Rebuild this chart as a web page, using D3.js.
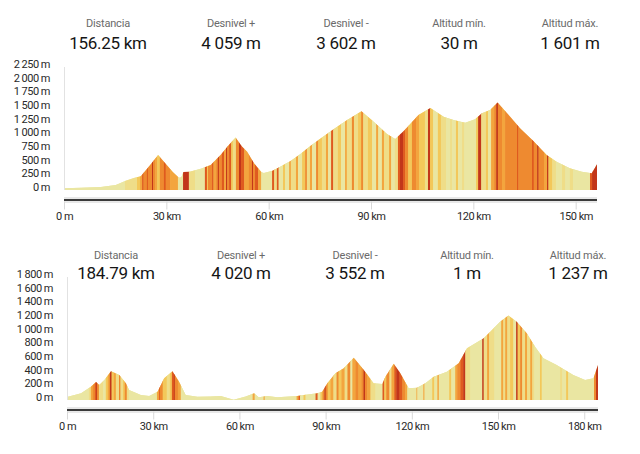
<!DOCTYPE html>
<html><head><meta charset="utf-8">
<script src="https://cdn.jsdelivr.net/npm/d3@7"></script>
<style>
html,body{margin:0;padding:0;background:#fff;}
svg{display:block;font-family:Roboto, "Noto Sans", sans-serif;}
</style></head>
<body>
<svg id="chart" width="640" height="454"></svg>
<script>
// ---------- DATA ----------
const statLabels = ["Distancia", "Desnivel +", "Desnivel -", "Altitud mín.", "Altitud máx."];
const stats1 = ["156.25 km", "4 059 m", "3 602 m", "30 m", "1 601 m"];
const stats2 = ["184.79 km", "4 020 m", "3 552 m", "1 m", "1 237 m"];

// grade classes: pale -> dark red
const gradeColors = ["#eae6a2", "#efdd88", "#f3c85a", "#f3a53e", "#ee8a30", "#df5a1f", "#c2361a"];

// route 1 profile
const route1Total = 156.25;
const route1Km   = [0, 5, 10.8, 15.2, 18.1, 20.5, 22.5, 24.9, 27.6, 29.8, 31.9, 33.7, 34.4, 35.0, 36.8, 40.1, 43.0, 45.9, 48.0, 50.3, 52.1, 53.7, 55.7, 57.9, 58.6, 61.1, 63.5, 66.4, 69.3, 72.3, 75.2, 79.1, 83.0, 87.2, 90.8, 94.7, 97.1, 99.6, 103.9, 107.4, 111.3, 114.2, 117.6, 120.5, 122.5, 124.9, 127.1, 130.8, 133.7, 137.6, 141.5, 144.4, 148.3, 151.8, 154.7, 156.25];
const route1Elev = [30, 40, 55, 90, 170, 220, 250, 430, 640, 480, 330, 225, 235, 330, 335, 390, 457, 640, 800, 960, 800, 700, 488, 323, 310, 350, 430, 530, 658, 810, 944, 1116, 1280, 1440, 1250, 1024, 933, 1079, 1372, 1500, 1341, 1280, 1231, 1293, 1403, 1463, 1601, 1341, 1128, 896, 640, 518, 397, 335, 305, 470];
const route1StripeKm = [0, 15.5, 17.9, 21.4, 22.3, 22.9, 23.3, 24.3, 24.6, 25.8, 26.1, 26.7, 27.3, 28.1, 29.3, 29.8, 31.1, 33.4, 34.9, 36.6, 38.4, 41.3, 41.9, 42.2, 43.4, 43.8, 44.6, 45.1, 45.4, 46.3, 46.9, 47.5, 47.8, 48.4, 49.0, 49.5, 50.4, 51.3, 51.9, 52.8, 54.2, 55.1, 55.4, 56.0, 56.9, 57.8, 61.0, 61.6, 62.4, 62.9, 64.2, 64.8, 66.0, 66.5, 68.0, 68.6, 69.8, 70.7, 71.2, 72.1, 72.7, 73.9, 74.5, 75.6, 76.8, 77.4, 78.3, 78.9, 80.3, 81.2, 82.4, 82.9, 84.4, 85.0, 86.2, 87.1, 87.7, 89.1, 90.3, 91.5, 92.1, 93.2, 93.8, 95.3, 95.9, 97.0, 97.9, 98.5, 99.4, 100.0, 100.9, 102.0, 103.2, 104.1, 105.8, 106.7, 107.3, 108.2, 109.6, 110.5, 112.0, 113.2, 113.7, 114.9, 115.5, 116.7, 117.3, 120.8, 121.4, 122.3, 123.7, 124.3, 125.2, 126.1, 126.7, 127.2, 128.4, 129.3, 132.8, 133.2, 137.2, 137.7, 138.7, 139.1, 140.7, 141.6, 142.0, 143.1, 144.2, 146.0, 146.9, 148.3, 149.2, 154.2, 154.8];
const route1StripeClass = [0, 0, 1, 2, 3, 5, 4, 5, 4, 6, 4, 3, 2, 4, 5, 4, 3, 0, 6, 1, 0, 5, 2, 4, 5, 3, 4, 6, 4, 5, 3, 6, 4, 5, 2, 1, 4, 6, 5, 3, 4, 6, 4, 5, 3, 0, 5, 1, 5, 0, 2, 0, 3, 1, 3, 0, 2, 4, 1, 3, 0, 4, 2, 1, 3, 0, 5, 1, 2, 0, 3, 1, 4, 1, 2, 4, 1, 2, 0, 3, 0, 3, 1, 3, 0, 1, 5, 6, 5, 4, 2, 4, 3, 2, 1, 6, 2, 0, 2, 1, 0, 1, 0, 2, 0, 1, 0, 2, 6, 1, 2, 0, 3, 4, 6, 4, 3, 4, 5, 4, 5, 4, 6, 4, 3, 6, 2, 1, 0, 1, 0, 1, 0, 5, 6];

// route 2 profile
const route2Total = 184.79;
const route2Km   = [0, 4.9, 8.3, 10.1, 11.2, 13.0, 15.3, 18.2, 20.5, 21.6, 25.7, 28.6, 31.5, 33.8, 36.7, 39.0, 41.3, 45.4, 50.0, 53.5, 58.0, 62.2, 65.1, 66.7, 69.7, 73.2, 80.1, 82.4, 87.1, 88.8, 90.6, 93.4, 96.3, 99.8, 103.3, 106.7, 109.7, 110.8, 113.7, 116.0, 118.9, 121.8, 124.7, 127.6, 132.2, 136.3, 139.2, 145.0, 147.3, 150.7, 153.6, 156.5, 160.0, 162.9, 165.8, 170.4, 176.2, 180.3, 183.2, 184.79];
const route2Elev = [45, 98, 195, 265, 220, 293, 420, 366, 244, 146, 73, 58, 121, 317, 420, 268, 73, 48, 50, 60, 5, 50, 98, 40, 60, 40, 60, 73, 98, 121, 244, 390, 463, 620, 439, 244, 234, 341, 530, 390, 171, 180, 244, 341, 415, 537, 756, 903, 1000, 1146, 1237, 1146, 976, 780, 610, 512, 366, 293, 317, 512];
const route2StripeKm = [0, 7.6, 8.3, 9.0, 9.7, 10.1, 10.4, 11.1, 12.5, 13.5, 14.2, 14.9, 15.5, 16.3, 17.0, 18.1, 18.6, 19.5, 20.1, 20.8, 21.5, 31.3, 32.0, 32.3, 33.3, 34.7, 35.8, 36.5, 37.2, 37.5, 38.6, 39.6, 64.6, 65.3, 68.4, 68.8, 79.9, 80.6, 81.1, 82.3, 83.0, 86.5, 87.2, 88.2, 88.9, 89.6, 90.0, 90.7, 91.7, 92.7, 93.8, 94.5, 95.5, 96.6, 97.6, 98.6, 99.3, 100.4, 101.4, 102.5, 103.2, 103.7, 104.5, 105.6, 107.3, 109.8, 110.4, 111.1, 112.2, 112.9, 113.9, 114.6, 115.7, 116.7, 117.7, 118.4, 121.6, 121.9, 124.0, 124.4, 127.1, 127.8, 128.9, 129.4, 133.0, 133.7, 135.1, 135.8, 136.9, 137.9, 138.6, 140.3, 144.5, 145.0, 146.2, 146.9, 148.7, 151.1, 151.8, 152.5, 153.2, 154.2, 155.3, 156.3, 156.8, 157.7, 158.4, 159.4, 160.1, 161.2, 161.9, 162.6, 164.6, 165.2, 171.6, 172.3, 173.7, 174.4, 183.4, 184.1];
const route2StripeClass = [0, 1, 3, 4, 5, 6, 4, 1, 0, 2, 3, 6, 2, 3, 1, 4, 1, 2, 4, 1, 0, 3, 5, 4, 2, 1, 2, 5, 6, 4, 3, 0, 3, 0, 3, 0, 3, 5, 0, 2, 0, 5, 0, 2, 4, 6, 4, 2, 3, 1, 4, 2, 3, 1, 4, 0, 3, 4, 3, 4, 6, 4, 3, 1, 0, 5, 2, 4, 1, 3, 5, 6, 5, 4, 3, 0, 3, 0, 3, 0, 2, 0, 3, 0, 2, 0, 3, 4, 5, 6, 1, 0, 6, 1, 3, 1, 0, 3, 1, 3, 1, 2, 0, 6, 2, 4, 1, 3, 1, 3, 1, 0, 2, 0, 1, 0, 2, 0, 4, 6];

const yTicks1 = [0, 250, 500, 750, 1000, 1250, 1500, 1750, 2000, 2250];
const yTickLabels1 = ["0 m", "250 m", "500 m", "750 m", "1 000 m", "1 250 m", "1 500 m", "1 750 m", "2 000 m", "2 250 m"];
const xTicks1 = [0, 30, 60, 90, 120, 150];
const xTickLabels1 = ["0 m", "30 km", "60 km", "90 km", "120 km", "150 km"];

const yTicks2 = [0, 200, 400, 600, 800, 1000, 1200, 1400, 1600, 1800];
const yTickLabels2 = ["0 m", "200 m", "400 m", "600 m", "800 m", "1 000 m", "1 200 m", "1 400 m", "1 600 m", "1 800 m"];
const xTicks2 = [0, 30, 60, 90, 120, 150, 180];
const xTickLabels2 = ["0 m", "30 km", "60 km", "90 km", "120 km", "150 km", "180 km"];

// ---------- DRAWING ----------
const svg = d3.select("#chart");

function drawPanel(cfg) {
  const g = svg.append("g");

  // header stats
  cfg.labels.forEach((lab, i) => {
    g.append("text").attr("x", cfg.statX[i]).attr("y", cfg.labelY)
      .attr("text-anchor", "middle").attr("font-size", 11).attr("fill", "#6a6a6a")
      .attr("letter-spacing", "-0.2").text(lab);
    g.append("text").attr("x", cfg.statX[i]).attr("y", cfg.valueY)
      .attr("text-anchor", "middle").attr("font-size", 17).attr("fill", "#151515")
      .attr("letter-spacing", "-0.3").text(cfg.values[i]);
  });

  const x = d3.scaleLinear().domain([0, cfg.total]).range([cfg.left, cfg.right]);
  const y = d3.scaleLinear().domain([0, cfg.yMax]).range([cfg.bottom, cfg.top]);

  const pts = cfg.km.map((k, i) => [k, cfg.elev[i]]);
  const area = d3.area().x(d => x(d[0])).y0(y(0)).y1(d => y(d[1]));

  const clipId = "clip" + cfg.id;
  svg.append("defs").append("clipPath").attr("id", clipId)
    .append("path").attr("d", area(pts));

  const plot = g.append("g").attr("clip-path", `url(#${clipId})`);
  plot.append("rect").attr("x", x(0)).attr("y", cfg.top).attr("width", x(cfg.total) - x(0))
    .attr("height", y(0) - cfg.top).attr("fill", gradeColors[0]);
  cfg.stripeKm.forEach((k, i) => {
    const k1 = i < cfg.stripeKm.length - 1 ? cfg.stripeKm[i + 1] : cfg.total;
    plot.append("rect").attr("x", x(k)).attr("y", cfg.top)
      .attr("width", Math.max(0, x(k1) - x(k)) + 0.4).attr("height", y(0) - cfg.top)
      .attr("fill", gradeColors[cfg.stripeClass[i]]);
  });

  // y axis
  const yAxis = d3.axisLeft(y).tickValues(cfg.yTicks).tickSize(0).tickPadding(0)
    .tickFormat((d, i) => cfg.yTickLabels[i]);
  const ya = g.append("g").attr("transform", `translate(${cfg.left - 14},-3)`).call(yAxis);
  ya.select(".domain").remove();
  ya.selectAll("text").attr("font-size", 11).attr("fill", "#2a2a2a")
    .attr("letter-spacing", "-0.5").attr("font-family", "Roboto, sans-serif");
  g.append("line").attr("x1", cfg.left + 0.5).attr("x2", cfg.left + 0.5)
    .attr("y1", cfg.top).attr("y2", y(0)).attr("stroke", "#e2e2e2").attr("stroke-width", 1);

  // x track
  const trackY = y(0) + 10;
  g.append("rect").attr("x", x(0)).attr("y", trackY - 3).attr("width", x(cfg.total) - x(0))
    .attr("height", 6).attr("fill", "#e8e8e8");
  g.append("rect").attr("x", x(0)).attr("y", trackY - 1).attr("width", x(cfg.total) - x(0))
    .attr("height", 2).attr("fill", "#3a3a3a");

  const xAxis = d3.axisBottom(x).tickValues(cfg.xTicks).tickSize(8).tickPadding(3)
    .tickFormat((d, i) => cfg.xTickLabels[i]);
  const xa = g.append("g").attr("transform", `translate(0,${trackY + 1.5})`).call(xAxis);
  xa.select(".domain").remove();
  xa.selectAll("line").attr("stroke", "#d8d8d8");
  xa.selectAll("text").attr("font-size", 11).attr("fill", "#2a2a2a")
    .attr("letter-spacing", "-0.5").attr("font-family", "Roboto, sans-serif");
}

drawPanel({
  id: 1, labels: statLabels, values: stats1,
  statX: [108, 231, 346, 459, 570], labelY: 27, valueY: 49,
  total: route1Total, km: route1Km, elev: route1Elev,
  stripeKm: route1StripeKm, stripeClass: route1StripeClass,
  yTicks: yTicks1, yTickLabels: yTickLabels1, xTicks: xTicks1, xTickLabels: xTickLabels1,
  left: 64, right: 597, top: 67, bottom: 190, yMax: 2250
});

drawPanel({
  id: 2, labels: statLabels, values: stats2,
  statX: [116, 241, 355, 467, 578], labelY: 259, valueY: 279,
  total: route2Total, km: route2Km, elev: route2Elev,
  stripeKm: route2StripeKm, stripeClass: route2StripeClass,
  yTicks: yTicks2, yTickLabels: yTickLabels2, xTicks: xTicks2, xTickLabels: xTickLabels2,
  left: 67, right: 598, top: 277, bottom: 400, yMax: 1800
});
</script>
</body></html>
